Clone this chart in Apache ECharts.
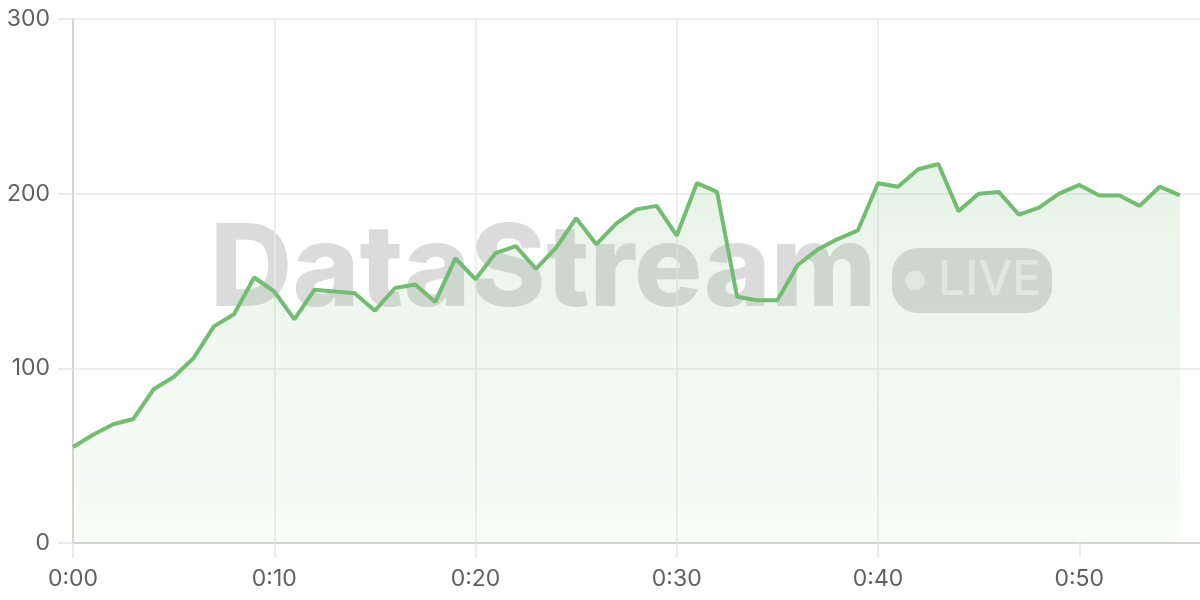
<!DOCTYPE html>
<html>
<head>
<meta charset="utf-8">
<script src="https://cdn.jsdelivr.net/npm/echarts@6/dist/echarts.min.js"></script>
<style>
html,body{margin:0;padding:0;background:#fff;}
#chart{width:1200px;height:600px;}
</style>
</head>
<body>
<div id="chart"></div>
<script>
// minutes since start
const minutes = [0,1,2,3,4,5,6,7,8,9,10,11,12,13,14,15,16,17,18,19,20,21,22,23,24,25,26,27,28,29,30,31,32,33,34,35,36,37,38,39,40,41,42,43,44,45,46,47,48,49,50,51,52,53,54,55];
const values = [55,62,68,71,88,95,106,124,131,152,144,128,145,144,143,133,146,148,138,163,151,166,170,157,169,186,171,183,191,193,176,206,201,141,139,139,159,168,174,179,206,204,214,217,190,200,201,188,192,200,205,199,199,193,204,199];
const yTicks = [0,100,200,300];
const xTicks = [0,10,20,30,40,50];
const xTickLabels = ['0:00','0:10','0:20','0:30','0:40','0:50'];
const watermarkText = 'DataStream';
const badgeText = 'LIVE';

const chart = echarts.init(document.getElementById('chart'), null, {renderer:'canvas'});
const lineColor = '#74bc74';
const seriesData = minutes.map((m,i)=>[m, values[i]]);

chart.setOption({
  animation:false,
  backgroundColor:'#ffffff',
  grid:{left:73, right:0, top:19, bottom:57, containLabel:false},
  xAxis:{
    type:'value', min:0, max:56, interval:10,
    axisLine:{show:true, lineStyle:{color:'#cccccc', width:1.5}},
    axisTick:{show:true, length:15, customValues:xTicks, lineStyle:{color:'#e6e6e6', width:1.5}},
    splitLine:{show:true, showMaxLine:false, lineStyle:{color:'#e8e8e8', width:1.5}},
    axisLabel:{
      margin:25, color:'#606060', fontSize:23, fontFamily:'Inter',
      customValues:xTicks,
      formatter:function(v){ const k = xTicks.indexOf(v); return k >= 0 ? xTickLabels[k] : ''; }
    }
  },
  yAxis:{
    type:'value', min:yTicks[0], max:yTicks[yTicks.length-1], interval:100,
    axisLine:{show:true, lineStyle:{color:'#cccccc', width:1.5}},
    axisTick:{show:true, length:15, lineStyle:{color:'#e6e6e6', width:1.5}},
    splitLine:{show:true, lineStyle:{color:'#e8e8e8', width:1.5}},
    axisLabel:{margin:23, color:'#606060', fontSize:23, fontFamily:'Inter'}
  },
  graphic:[
    {type:'text', z:-10, x:210, y:272,
      style:{text:watermarkText, font:'800 114px Inter', fill:'rgba(0,0,0,0.14)', textAlign:'left', textVerticalAlign:'middle'}},
    {type:'rect', z:-10, x:892, y:248, shape:{width:160, height:65, r:26},
      style:{fill:'rgba(0,0,0,0.14)'}},
    {type:'circle', z:-9, shape:{cx:915, cy:280.5, r:10}, style:{fill:'rgba(255,255,255,0.55)'}},
    {type:'text', z:-9, x:938, y:281,
      style:{text:badgeText, font:'500 48px Inter', fill:'rgba(255,255,255,0.55)', textAlign:'left', textVerticalAlign:'middle'}}
  ],
  series:[{
    type:'line',
    data:seriesData,
    showSymbol:false,
    symbol:'none',
    lineStyle:{color:lineColor, width:4},
    itemStyle:{color:lineColor},
    areaStyle:{
      color:new echarts.graphic.LinearGradient(0,0,0,1,[
        {offset:0, color:'rgba(119,189,119,0.25)'},
        {offset:1, color:'rgba(119,189,119,0.06)'}
      ])
    },
    z:5
  }]
});
</script>
</body>
</html>
